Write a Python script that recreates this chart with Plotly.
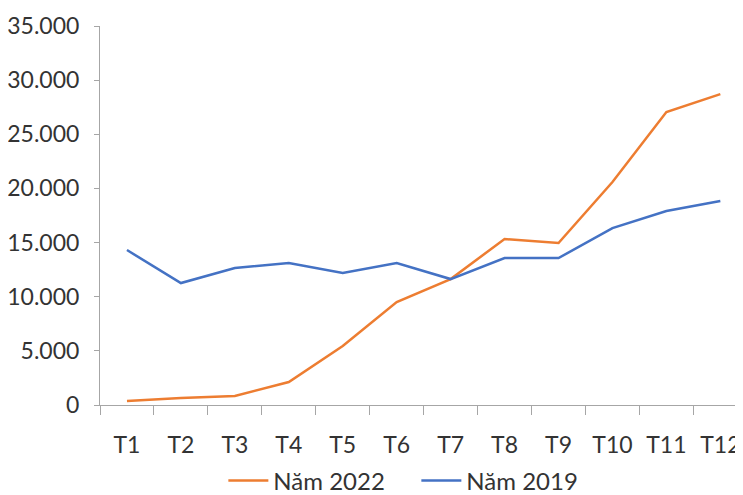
import plotly.graph_objects as go

months = ["T1", "T2", "T3", "T4", "T5", "T6", "T7", "T8", "T9", "T10", "T11", "T12"]
nam_2022 = [370, 650, 830, 2120, 5450, 9510, 11630, 15330, 14960, 20590, 27050, 28710]
nam_2019 = [14310, 11260, 12650, 13110, 12190, 13110, 11630, 13570, 13570, 16340, 17910, 18840]
y_ticks = [0, 5000, 10000, 15000, 20000, 25000, 30000, 35000]

FONT = "Lato"
AXIS = "#A6A6A6"
TXT = "#333333"

fig = go.Figure()
fig.add_trace(go.Scatter(x=months, y=nam_2022, mode="lines", name="Năm 2022",
                         line=dict(color="#ED7D31", width=2.5)))
fig.add_trace(go.Scatter(x=months, y=nam_2019, mode="lines", name="Năm 2019",
                         line=dict(color="#4472C4", width=2.5)))

# page body adds an 8px offset, so the figure is sized to the visible area
fig.update_layout(
    width=735, height=487,
    margin=dict(l=92, r=0, t=18, b=90, autoexpand=False),
    paper_bgcolor="white", plot_bgcolor="white",
    separators=",.",
    font=dict(family=FONT, size=23, color=TXT),
    showlegend=True,
    legend=dict(orientation="h", x=0.492, xanchor="center", y=-0.200, yanchor="middle",
                font=dict(family=FONT, size=24, color=TXT),
                traceorder="normal", itemwidth=40,
                entrywidth=138, entrywidthmode="pixels"),
)
fig.update_xaxes(
    type="category", range=[-0.5, 11.42], automargin=False,
    showline=True, linecolor=AXIS, linewidth=1,
    ticks="outside", tickson="boundaries", ticklen=9, tickcolor=AXIS,
    ticklabelstandoff=19,
    showgrid=False, zeroline=False,
    tickfont=dict(family=FONT, size=23, color=TXT),
)
fig.update_yaxes(
    range=[0, 35000], tickvals=y_ticks, tickformat=",d", automargin=False,
    showline=True, linecolor=AXIS, linewidth=1,
    ticks="outside", ticklen=5, tickcolor=AXIS,
    ticklabelstandoff=10,
    showgrid=False, zeroline=False,
    tickfont=dict(family=FONT, size=23, color=TXT),
)

fig.write_html("out.html")
